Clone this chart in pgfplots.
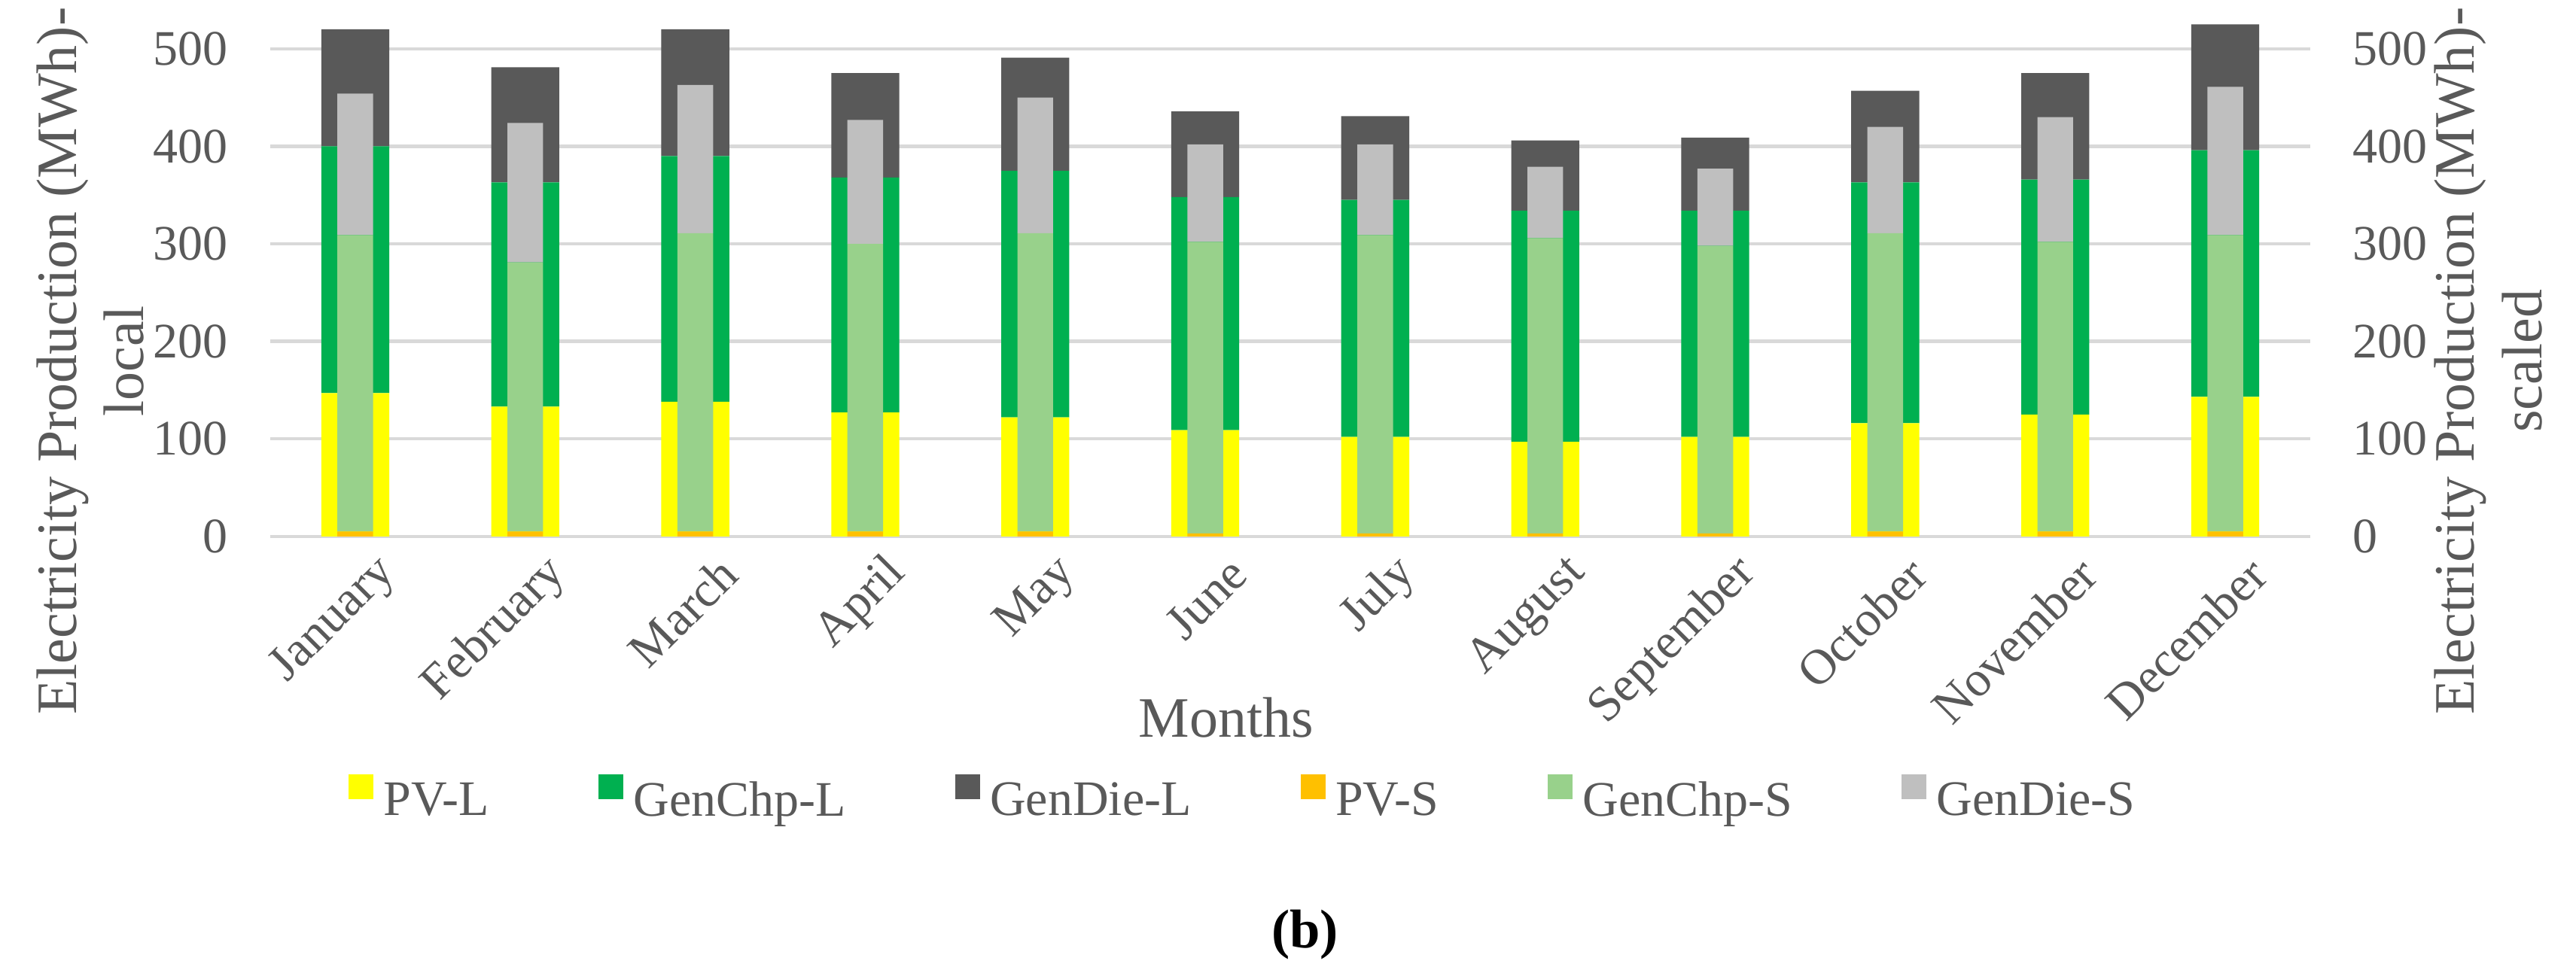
\documentclass[border=0pt]{standalone}
\usepackage{pgfplots}
\pgfplotsset{compat=1.18}
\usepackage{pgfplotstable}
\usepackage{fontspec}
\setmainfont{Liberation Serif}

\definecolor{pvl}{HTML}{FFFF00}
\definecolor{chpl}{HTML}{00B050}
\definecolor{diel}{HTML}{595959}
\definecolor{pvs}{HTML}{FFC000}
\definecolor{chps}{HTML}{98D18B}
\definecolor{dies}{HTML}{BFBFBF}
\definecolor{txt}{HTML}{595959}
\definecolor{gridc}{HTML}{D9D9D9}

% monthly production, MWh (stack pieces)
\pgfplotstableread{
m  pvl chpl diel pvs chps dies
0  147 253  120  5   304  145
1  133 230  118  5   276  143
2  138 252  130  5   306  152
3  127 241  107  5   295  127
4  122 253  116  5   306  139
5  109 239  88   3   299  100
6  102 243  86   3   306  93
7  97  237  72   3   303  73
8  102 232  75   3   295  79
9  116 247  94   5   306  109
10 125 241  109  5   297  128
11 143 253  129  5   304  152
}\dataP

\pgfplotsset{
  base/.style={
    width=410.6pt, height=108pt, scale only axis,
    at={(0pt,0pt)}, anchor=south west,
    xmin=-0.5, xmax=11.5, ymin=0, ymax=550,
    ytick={0,100,...,500},
    axis line style={draw=none},
    major tick length=0pt,
    ybar stacked,
    tick label style={font=\fontsize{10}{12}\selectfont, text=txt},
    label style={font=\fontsize{11.5}{13.5}\selectfont, text=txt, align=center},
    /pgf/number format/assume math mode=true,
    clip=false,
  },
  sq/.style={fill=#1, draw=none,
    legend image code/.code={\fill[#1] (0pt,0.8pt) rectangle (5pt,5.8pt);}},
}

\begin{document}
\begin{tikzpicture}
\useasboundingbox (-54.4pt,-87.8pt) rectangle (464.1pt,108pt);

\begin{axis}[base, bar width=0.4,
  xtick={0,...,11},
  xticklabels={January,February,March,April,May,June,July,August,September,October,November,December},
  xticklabel style={rotate=45, anchor=east, xshift=4pt, yshift=-9pt},
  ymajorgrids, grid style={gridc, line width=0.65pt},
  yticklabel style={xshift=-5pt},
  ylabel={Electricity Production (MWh)-\\local},
  ylabel style={at={(axis description cs:-0.1232,0.327)}, anchor=north},
  xlabel={Months},
  xlabel style={at={(axis description cs:0.4686,-0.338)}, anchor=center},
]
\addplot[sq=pvl]  table[x=m, y=pvl]  {\dataP};
\addplot[sq=chpl] table[x=m, y=chpl] {\dataP};
\addplot[sq=diel] table[x=m, y=diel] {\dataP};
\end{axis}

\begin{axis}[base, bar width=0.21,
  xtick=\empty,
  yticklabel pos=right,
  yticklabel style={xshift=5pt},
  ylabel={Electricity Production (MWh)-\\scaled},
  ylabel style={at={(axis description cs:1.1222,0.327)}, anchor=south},
  legend columns=6,
  legend style={at={(axis description cs:0.4764,-0.494)}, anchor=center,
    draw=none, fill=none, inner sep=0pt,
    font=\fontsize{10}{12}\selectfont, text=txt,
    nodes={inner xsep=0pt, inner ysep=1pt},
    /tikz/every odd column/.append style={column sep=2pt},
    /tikz/every even column/.append style={column sep=22pt}},
  legend entries={PV-L,GenChp-L,GenDie-L,PV-S,GenChp-S,GenDie-S},
]
\addlegendimage{sq=pvl}
\addlegendimage{sq=chpl}
\addlegendimage{sq=diel}
\addplot[sq=pvs]  table[x=m, y=pvs]  {\dataP};
\addplot[sq=chps] table[x=m, y=chps] {\dataP};
\addplot[sq=dies] table[x=m, y=dies] {\dataP};
\end{axis}

\node[font=\bfseries\fontsize{11}{13}\selectfont, text=black] at (208.3pt,-80.2pt) {(b)};
\end{tikzpicture}
\end{document}
